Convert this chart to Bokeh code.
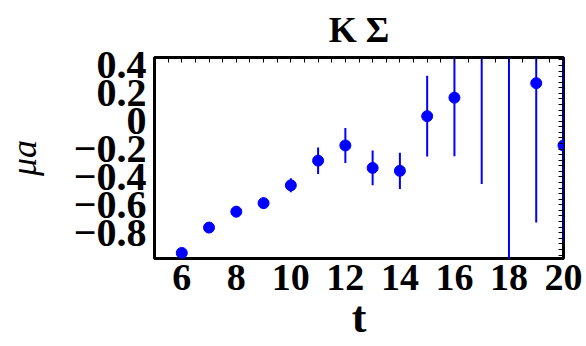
from bokeh.plotting import figure
from bokeh.models import Range1d, FixedTicker, LinearAxis, SingleIntervalTicker, ColumnDataSource
from bokeh.embed import file_html
from bokeh.resources import INLINE

# ---- data ----
t_vals = [6, 7, 8, 9, 10, 11, 12, 13, 14, 15, 16, 17, 18, 19, 20]
mu_vals = [-0.945, -0.763, -0.649, -0.588, -0.460, -0.283, -0.174, -0.335, -0.356,
           0.036, 0.169, 0.70, 0.60, 0.273, -0.174]
err_vals = [0.025, 0.03, 0.04, 0.04, 0.05, 0.095, 0.125, 0.125, 0.13,
            0.29, 0.42, 1.15, 1.70, 1.00, 0.69]

x_ticks = [6, 8, 10, 12, 14, 16, 18, 20]
y_ticks = [-0.8, -0.6, -0.4, -0.2, 0.0, 0.2, 0.4]
y_tick_labels = ["\u22120.8", "\u22120.6", "\u22120.4", "\u22120.2", "0", "0.2", "0.4"]

title_text = "K \u03a3"
x_label = "t"
y_label = "\u03bca"

lower = [m - e for m, e in zip(mu_vals, err_vals)]
upper = [m + e for m, e in zip(mu_vals, err_vals)]
src = ColumnDataSource(dict(t=t_vals, mu=mu_vals, lo=lower, hi=upper))

FONT = "Liberation Serif"
BLUE = "#0000ff"

p = figure(width=586, height=346, x_range=Range1d(5, 20), y_range=Range1d(-0.985, 0.457),
           output_backend="svg", toolbar_location=None,
           min_border_left=153, min_border_right=23, min_border_top=55, min_border_bottom=88)
p.grid.visible = False
p.outline_line_color = "black"
p.outline_line_width = 3
p.background_fill_color = "white"
p.border_fill_color = "white"

p.title.text = title_text
p.title.align = "center"
p.title.text_font = FONT
p.title.text_font_size = "36px"
p.title.text_font_style = "bold"
p.title.text_color = "black"
p.title.standoff = 15

# bottom axis
xa = p.xaxis[0]
xa.ticker = FixedTicker(ticks=x_ticks)
xa.major_label_text_font = FONT
xa.major_label_text_font_size = "38px"
xa.major_label_text_font_style = "bold"
xa.major_label_text_color = "black"
xa.major_label_standoff = 6
xa.major_tick_in = 0
xa.major_tick_out = 0
xa.minor_tick_in = 0
xa.minor_tick_out = 0
xa.axis_line_color = None
xa.axis_label = x_label
xa.axis_label_text_font = FONT
xa.axis_label_text_font_size = "44px"
xa.axis_label_text_font_style = "bold"
xa.axis_label_text_color = "black"
xa.axis_label_standoff = 0

# left axis
ya = p.yaxis[0]
ya.ticker = FixedTicker(ticks=y_ticks)
ya.major_label_overrides = {v: s for v, s in zip(y_ticks, y_tick_labels)}
ya.major_label_text_font = FONT
ya.major_label_text_font_size = "40px"
ya.major_label_text_font_style = "bold"
ya.major_label_text_color = "black"
ya.major_label_standoff = 8
ya.major_tick_in = 0
ya.major_tick_out = 0
ya.minor_tick_in = 0
ya.minor_tick_out = 0
ya.axis_line_color = None
ya.axis_label = y_label
ya.axis_label_text_font = FONT
ya.axis_label_text_font_size = "36px"
ya.axis_label_text_font_style = "italic"
ya.axis_label_text_color = "black"
ya.axis_label_standoff = 27

# top axis: inward ticks only
ta = LinearAxis(ticker=SingleIntervalTicker(interval=0.5, num_minor_ticks=0),
                major_tick_in=5, major_tick_out=0, minor_tick_in=0, minor_tick_out=0,
                major_label_text_font_size="0px", major_label_text_color=None,
                major_label_standoff=0, axis_line_color=None)
p.add_layout(ta, "above")

# right axis: dense inward ticks
ra = LinearAxis(ticker=SingleIntervalTicker(interval=0.04, num_minor_ticks=0),
                major_tick_in=5, major_tick_out=0, minor_tick_in=0, minor_tick_out=0,
                major_label_text_font_size="0px", major_label_text_color=None,
                major_label_standoff=0, axis_line_color=None)
p.add_layout(ra, "right")

p.segment(x0="t", y0="lo", x1="t", y1="hi", source=src, line_color=BLUE, line_width=2)
p.scatter(x="t", y="mu", source=src, marker="circle", size=11,
          fill_color=BLUE, line_color=BLUE)

open("out.html", "w").write(file_html(p, INLINE))
